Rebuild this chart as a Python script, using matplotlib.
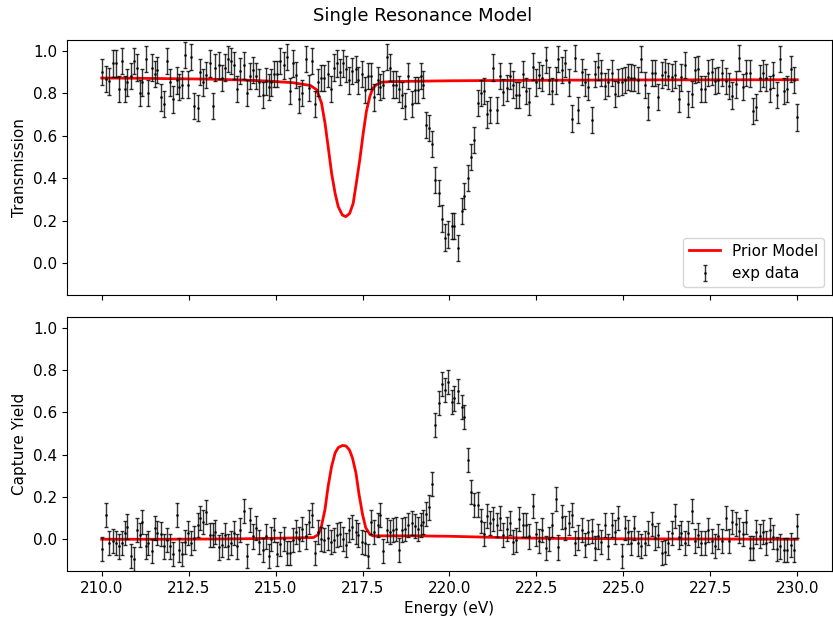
import numpy as np
import matplotlib
matplotlib.use("Agg")
import matplotlib.pyplot as plt

energy = [
    210.00, 210.12, 210.22, 210.31, 210.41, 210.49, 210.58, 210.67, 210.74, 210.83,
    210.93, 211.00, 211.10, 211.17, 211.27, 211.34, 211.44, 211.53, 211.60, 211.70,
    211.79, 211.88, 211.96, 212.05, 212.15, 212.22, 212.32, 212.40, 212.49, 212.58,
    212.66, 212.76, 212.83, 212.92, 213.01, 213.10, 213.20, 213.27, 213.37, 213.45,
    213.54, 213.63, 213.72, 213.81, 213.90, 213.99, 214.09, 214.17, 214.25, 214.35,
    214.43, 214.53, 214.63, 214.71, 214.80,
    214.87, 214.96, 215.04, 215.13, 215.23, 215.32, 215.42, 215.50, 215.59, 215.68,
    215.77, 215.87, 215.96, 216.05, 216.14, 216.23, 216.31, 216.40, 216.50, 216.58,
    216.68, 216.76, 216.85, 216.94, 217.03, 217.11, 217.21, 217.30, 217.38, 217.48,
    217.56, 217.65, 217.74, 217.83, 217.93, 218.01, 218.10, 218.19, 218.28, 218.37,
    218.46, 218.55, 218.64, 218.73, 218.82, 218.91, 219.00, 219.09, 219.18, 219.25,
    219.33, 219.42, 219.51, 219.59, 219.69, 219.78, 219.87,
    219.97, 220.06, 220.14, 220.25, 220.35, 220.42, 220.52, 220.62, 220.71, 220.81,
    220.90, 220.98, 221.07, 221.17, 221.26, 221.36, 221.45, 221.55, 221.64, 221.73,
    221.83, 221.92, 222.01, 222.11, 222.21, 222.29, 222.39, 222.48, 222.57, 222.67,
    222.78, 222.87, 222.96, 223.05, 223.13, 223.24, 223.33, 223.43, 223.52, 223.61,
    223.71, 223.81, 223.91, 223.99, 224.09, 224.18, 224.28, 224.37, 224.46, 224.56,
    224.66, 224.75, 224.85,
    224.95, 225.04, 225.13, 225.22, 225.32, 225.41, 225.52, 225.62, 225.72, 225.81,
    225.91, 226.00, 226.10, 226.19, 226.29, 226.39, 226.48, 226.59, 226.67, 226.77,
    226.87, 226.97, 227.06, 227.16, 227.24, 227.34, 227.44, 227.54, 227.63, 227.73,
    227.83, 227.94, 228.04, 228.13, 228.23, 228.33, 228.44, 228.53, 228.63, 228.72,
    228.82, 228.92, 229.02, 229.11, 229.21, 229.30, 229.41, 229.50, 229.61, 229.70,
    229.81, 229.90, 230.00,
]

# measured transmission
transmission = [
    0.90, 0.866, 0.855, 0.94, 0.94, 0.82, 0.95, 0.82, 0.85, 0.88,
    0.95, 0.92, 0.80, 0.85, 0.96, 0.80, 0.92, 0.89, 0.91, 0.78,
    0.75, 0.95, 0.85, 0.77, 0.86, 0.83, 0.84, 0.98, 0.84, 0.97,
    0.74, 0.73, 0.90, 0.85, 0.885, 0.94, 0.74, 0.92, 0.93, 0.87,
    0.92, 0.96, 0.95, 0.93, 0.82, 0.905, 0.93, 0.80, 0.88, 0.91,
    0.88, 0.85, 0.79, 0.855, 0.83,
    0.85, 0.89, 0.89, 0.95, 0.93, 0.97, 0.81, 0.94, 0.885, 0.77,
    0.80, 0.96, 0.825, 0.95, 0.75, 0.85, 0.87, 0.87, 0.89, 0.82,
    0.92, 0.94, 0.90, 0.94, 0.915, 0.86, 0.905, 0.915, 0.86, 0.89,
    0.815, 0.88, 0.88, 0.78, 0.86, 0.83, 0.84, 0.97, 0.92, 0.84,
    0.84, 0.82, 0.79, 0.74, 0.88, 0.75, 0.815, 0.815, 0.88, 0.84,
    0.65, 0.635, 0.56, 0.39, 0.33, 0.21, 0.12,
    0.135, 0.176, 0.175, 0.07, 0.245, 0.316, 0.40, 0.50, 0.58, 0.755,
    0.80, 0.81, 0.70, 0.72, 0.92, 0.72, 0.88, 0.805, 0.825, 0.88,
    0.84, 0.79, 0.79, 0.89, 0.81, 0.76, 0.925, 0.85, 0.885, 0.87,
    0.956, 0.86, 0.81, 0.86, 0.96, 0.91, 0.94, 0.85, 0.68, 0.965,
    0.72, 0.90, 0.85, 0.83, 0.675, 0.89, 0.925, 0.895, 0.835, 0.85,
    0.896, 0.795, 0.85,
    0.854, 0.862, 0.877, 0.873, 0.871, 0.862, 0.962, 0.838, 0.737, 0.896,
    0.896, 0.783, 0.885, 0.90, 0.88, 0.874, 0.887, 0.774, 0.874, 0.932,
    0.75, 0.797, 0.909, 0.912, 0.818, 0.818, 0.896, 0.90, 0.858, 0.862,
    0.896, 0.857, 0.832, 0.788, 0.841, 0.964, 0.83, 0.895, 0.893, 0.717,
    0.736, 0.87, 0.893, 0.873, 0.82, 0.885, 0.79, 0.962, 0.81, 0.818,
    0.914, 0.862, 0.686,
]

# measured capture yield
capture_yield = [
    -0.047, 0.114, -0.019, -0.009, -0.019, -0.034, -0.016, 0.028, 0.06, -0.078,
    -0.094, 0.044, 0.019, 0.083, -0.034, -0.019, -0.056, 0.052, 0.028, 0.023,
    -0.034, -0.003, -0.034, -0.07, 0.114, -0.05, -0.07, -0.011, 0.028, -0.019,
    0.005, 0.066, 0.099, 0.083, 0.13, 0.019, 0.019, 0.036, -0.039, -0.027,
    0.019, -0.034, -0.019, 0.028, -0.034, 0.044, 0.133, -0.078, 0.091, 0.013,
    0.052, -0.011, -0.05, 0.013, -0.078,
    0.0, 0.044, -0.07, -0.023, 0.0, -0.066, -0.066, -0.003, 0.034, 0.0,
    0.05, 0.013, 0.081, 0.113, -0.063, 0.034, 0.003, -0.003, 0.008, -0.013,
    -0.003, 0.019, 0.023, 0.003, -0.028, 0.044, 0.059, 0.034, 0.019, -0.013,
    -0.016, -0.081, 0.081, 0.034, 0.066, 0.116, -0.055, 0.044, 0.034, 0.044,
    0.05, -0.05, 0.044, 0.05, 0.066, 0.075, 0.063, 0.05, 0.066, 0.08,
    0.12, 0.15, 0.26, 0.54, 0.645, 0.734, 0.706,
    0.742, 0.648, 0.665, 0.70, 0.626, 0.577, 0.376, 0.224, 0.161, 0.164,
    0.085, 0.025, 0.11, 0.078, 0.097, 0.066, 0.099, 0.02, 0.05, 0.075,
    -0.011, -0.003, 0.097, 0.069, 0.067, 0.013, 0.155, 0.025, -0.008, 0.044,
    -0.042, 0.0, 0.067, 0.192, -0.039, 0.106, 0.052, 0.075, 0.114, -0.019,
    0.008, 0.044, -0.027, 0.036, 0.039, -0.042, 0.013, -0.011, 0.067, -0.034,
    0.067, 0.036, 0.099,
    -0.08, 0.055, 0.036, -0.019, 0.052, -0.02, -0.033, -0.019, 0.028, 0.07,
    0.006, 0.02, -0.064, -0.06, -0.016, 0.028, 0.11, 0.01, 0.028, -0.019,
    0.028, 0.133, -0.008, 0.02, -0.019, -0.016, 0.042, -0.009, -0.03, 0.013,
    -0.008, 0.102, -0.008, 0.08, 0.072, 0.041, 0.025, 0.083, -0.041, -0.041,
    0.036, 0.016, 0.036, -0.019, 0.045, 0.009, -0.047, -0.034, -0.05, -0.05,
    -0.027, -0.05, 0.063,
]

# uncertainties (one sigma)
trans_err = 0.062
yield_err = 0.057

# prior model curves
model_trans_energy = [210.0, 211.0, 212.0, 213.0, 214.0, 214.75, 215.5, 216.0, 216.18,
                      216.32, 216.42, 216.51, 216.61, 216.71, 216.80, 216.92, 217.02,
                      217.13, 217.23, 217.32, 217.42, 217.52, 217.61, 217.71, 217.80,
                      217.90, 218.04, 218.28, 219.0, 220.0, 222.0, 225.0, 230.0]
model_trans = [0.871, 0.870, 0.868, 0.866, 0.862, 0.857, 0.849, 0.836, 0.816,
               0.753, 0.659, 0.549, 0.423, 0.329, 0.266, 0.226, 0.219,
               0.234, 0.281, 0.376, 0.486, 0.612, 0.714, 0.785, 0.824,
               0.840, 0.851, 0.854, 0.856, 0.858, 0.860, 0.862, 0.863]

model_yield_energy = [210.0, 212.0, 214.0, 214.75, 215.5, 216.09, 216.23, 216.32, 216.42,
                      216.51, 216.61, 216.71, 216.80, 216.92, 217.02, 217.12, 217.21,
                      217.31, 217.40, 217.50, 217.59, 217.71, 217.80, 218.0, 219.0,
                      220.0, 221.0, 222.0, 223.0, 225.0, 230.0]
model_yield = [0.0, 0.0, 0.002, 0.004, 0.006, 0.008, 0.023, 0.063, 0.141,
               0.250, 0.344, 0.407, 0.433, 0.443, 0.441, 0.423, 0.384,
               0.313, 0.211, 0.117, 0.055, 0.023, 0.016, 0.016, 0.016,
               0.014, 0.010, 0.006, 0.004, 0.002, 0.0]

plt.rcParams['font.size'] = 11

fig = plt.figure(figsize=(8.33, 6.22), dpi=100)
ax1 = fig.add_axes([0.0804, 0.5257, 0.9184, 0.41])
ax2 = fig.add_axes([0.0804, 0.082, 0.9184, 0.4084], sharex=ax1)

bar_style = dict(fmt='.', color='black', ecolor='black', markersize=2,
                 elinewidth=1, capsize=1.5, alpha=0.8)

#Top panel: transmission
ax1.plot(model_trans_energy, model_trans, color='red', lw=2, label='Prior Model')
ax1.errorbar(energy, transmission, yerr=trans_err, label='exp data', **bar_style)
ax1.set_ylabel('Transmission')
ax1.set_ylim(-0.15, 1.05)
ax1.legend(loc='lower right')
plt.setp(ax1.get_xticklabels(), visible=False)

#Bottom panel: capture yield
ax2.plot(model_yield_energy, model_yield, color='red', lw=2)
ax2.errorbar(energy, capture_yield, yerr=yield_err, **bar_style)
ax2.set_ylabel('Capture Yield')
ax2.set_xlabel('Energy (eV)')
ax2.set_ylim(-0.15, 1.05)

fig.suptitle('Single Resonance Model', x=0.507, y=0.988, fontsize=13)
fig.savefig('out.png', dpi=100)
